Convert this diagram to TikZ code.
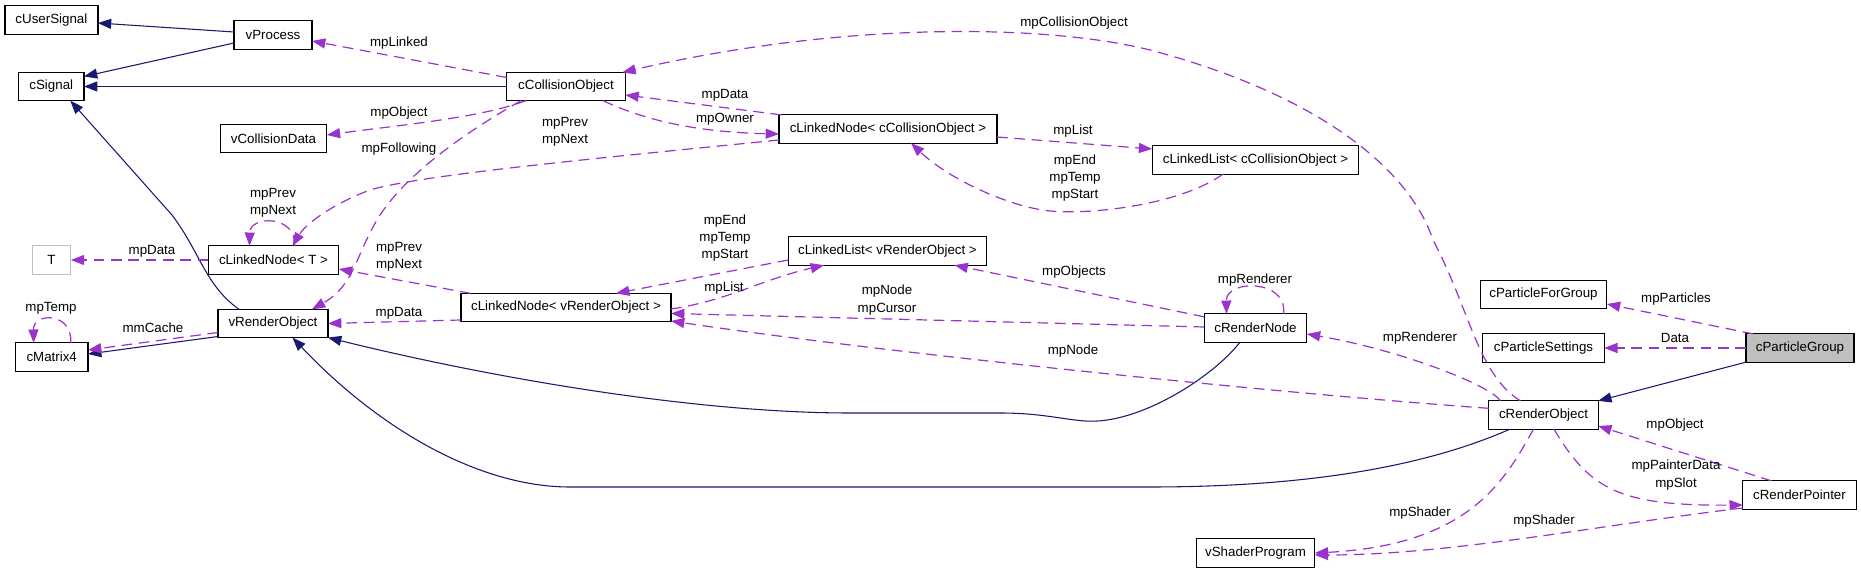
\documentclass[tikz,border=0pt]{standalone}
\usepackage{fontspec}
\setmainfont{Liberation Sans}
\usetikzlibrary{arrows.meta,calc}
\definecolor{navyc}{HTML}{191970}
\definecolor{purp}{HTML}{9A32CD}
\definecolor{grayb}{HTML}{BFBFBF}
\begin{document}
\begin{tikzpicture}[x=0.75pt,y=-0.75pt,
  font=\fontsize{10}{13}\selectfont,
  box/.style={draw=black, fill=white, line width=0.9pt, minimum height=21.2pt, inner sep=0pt, outer sep=0pt},
  inh/.style={draw=navyc, line width=0.8pt, -{Triangle[length=10pt,width=7.5pt]}},
  use/.style={draw=purp, line width=0.9pt, dash pattern=on 8pt off 5pt, -{Triangle[length=10pt,width=7.5pt]}},
  lbl/.style={inner sep=0pt, align=center, text=black}]
\useasboundingbox (0,0) rectangle (1861,573);
\fill[white] (0,0) rectangle (1861,573);
% nodes
\node[box, minimum width=69.75pt] (cUS) at (51.4,20) {cUserSignal};
\node[box, minimum width=58.5pt] (vP) at (273,35) {vProcess};
\node[box, minimum width=49pt] (cS) at (51.3,86.5) {cSignal};
\node[box, minimum width=89pt] (cCO) at (566,86.5) {cCollisionObject};
\node[box, minimum width=80pt] (vCD) at (273.5,138.5) {vCollisionData};
\node[box, minimum width=163.5pt] (cLNCO) at (888,129) {cLinkedNode< cCollisionObject >};
\node[box, minimum width=155pt] (cLLCO) at (1255.5,160) {cLinkedList< cCollisionObject >};
\node[box, draw=grayb, minimum width=29pt] (nT) at (51.5,260) {T};
\node[box, minimum width=98pt] (cLNT) at (273.5,260) {cLinkedNode< T >};
\node[box, minimum width=157.5pt] (cLNRO) at (566,307.5) {cLinkedNode< vRenderObject >};
\node[box, minimum width=82.5pt] (vRO) at (273,323.5) {vRenderObject};
\node[box, minimum width=54.5pt] (cM4) at (51.7,357) {cMatrix4};
\node[box, minimum width=149pt] (cLLRO) at (887.5,251) {cLinkedList< vRenderObject >};
\node[box, minimum width=77pt] (cRN) at (1255.5,328) {cRenderNode};
\node[box, minimum width=95pt] (cPFG) at (1543.5,294.5) {cParticleForGroup};
\node[box, minimum width=91pt] (cPS) at (1543.5,348) {cParticleSettings};
\node[box, fill=grayb, minimum width=81pt] (cPG) at (1800,348) {cParticleGroup};
\node[box, minimum width=82pt] (cRO) at (1543.5,415) {cRenderObject};
\node[box, minimum width=85pt] (cRP) at (1799.5,495) {cRenderPointer};
\node[box, minimum width=89pt] (vSP) at (1255.5,553) {vShaderProgram};
% inheritance edges
\draw[inh] ($(vP.west)+(0,-3)$) -- ($(cUS.east)+(0,3)$);
\draw[inh] ($(vP.west)+(0,8)$) -- ($(cS.east)+(0,-10)$);
\draw[inh] (cCO.west) -- (cS.east);
\draw[inh] ($(vRO.north)+(-34,0)$) .. controls (205,285) and (200,252) .. (172,215) -- ($(cS.south)+(19,0)$);
\draw[inh] ($(vRO.west)+(0,13)$) -- ($(cM4.east)+(0,-3)$);
\draw[inh] ($(cRN.south)+(-15.5,0)$) .. controls (1215,375) and (1140,425) .. (1085,421) .. controls (1060,419) and (1040,413) .. (1000,413) -- (850,413) .. controls (700,413) and (500,380) .. (vRO.south east);
\draw[inh] ($(cRO.south)+(-33.5,0)$) .. controls (1440,460) and (1330,487) .. (1150,487) -- (570,487) .. controls (480,487) and (380,430) .. ($(vRO.south)+(19.5,0)$);
\draw[inh] (cPG.south west) -- (cRO.north east);
% usage edges
\draw[use] ($(cCO.west)+(0,-9)$) -- ($(vP.east)+(0,6)$);
\draw[use] ($(cCO.south)+(-40,0)$) .. controls (480,118) and (400,125) .. ($(vCD.east)+(0,-3.5)$);
\draw[use] ($(cCO.south)+(-45,0)$) .. controls (470,130) and (410,170) .. (380,215) .. controls (355,255) and (355,285) .. ($(vRO.north)+(39,0)$);
\draw[use] ($(cLNCO.north west)+(2,0)$) -- ($(cCO.east)+(0,8.5)$);
\draw[use] ($(cCO.south)+(37,0)$) .. controls (640,118) and (690,132) .. ($(cLNCO.west)+(0,5)$);
\draw[use] ($(cLNCO.west)+(0,11)$) .. controls (600,158) and (420,175) .. (370,190) .. controls (330,205) and (305,225) .. ($(cLNT.north)+(19,0)$);
\draw[use] ($(cLNT.north)+(21,0)$) .. controls (297,215) and (250,215) .. ($(cLNT.north)+(-24,0)$);
\draw[use] (cLNT.west) -- (nT.east);
\draw[use] ($(cLNRO.north west)+(9.5,0)$) -- ($(cLNT.east)+(0,9)$);
\draw[use] ($(cLNRO.west)+(0,12.5)$) -- (vRO.east);
\draw[use] ($(vRO.west)+(0,9)$) -- ($(cM4.east)+(0,-7)$);
\draw[use] ($(cM4.north)+(19,0)$) .. controls (73,312) and (33,312) .. ($(cM4.north)+(-18,0)$);
\draw[use] ($(cLLRO.west)+(0,9)$) -- ($(cLNRO.north)+(50,0)$);
\draw[use] ($(cLNRO.east)+(0,1.5)$) .. controls (730,300) and (760,280) .. ($(cLLRO.south)+(-63.5,0)$);
\draw[use] ($(cRN.west)+(0,-1)$) -- ($(cLNRO.east)+(0,6)$);
\draw[use] ($(cRO.west)+(0,-6.7)$) .. controls (1300,395) and (900,355) .. ($(cLNRO.east)+(0,13.5)$);
\draw[use] ($(cRN.north west)+(0,3)$) -- ($(cLLRO.south)+(67,0)$);
\draw[use] ($(cRN.north)+(28,0)$) .. controls (1288,279) and (1226,279) .. ($(cRN.north)+(-29,0)$);
\draw[use] ($(cPG.north west)+(7,0)$) -- ($(cPFG.east)+(0,9.5)$);
\draw[use] (cPG.west) -- (cPS.east);
\draw[use] ($(cRO.north)+(-43,0)$) .. controls (1490,385) and (1400,350) .. ($(cRN.east)+(0,6)$);
\draw[use] ($(cRO.north)+(-23,0)$) .. controls (1478,375) and (1470,310) .. (1433,240) .. controls (1410,170) and (1320,95) .. (1150,50) .. controls (1050,25) and (850,20) .. ($(cCO.north east)+(-3,0)$);
\draw[use] ($(cLNCO.east)+(0,8)$) -- ($(cLLCO.west)+(0,-11)$);
\draw[use] ($(cLLCO.south)+(-32.5,0)$) .. controls (1180,205) and (1090,215) .. (1050,211) .. controls (1010,207) and (950,180) .. ($(cLNCO.south)+(23,0)$);
\draw[use] ($(cRO.south)+(-10,0)$) .. controls (1505,480) and (1470,545) .. (vSP.east);
\draw[use] ($(cRP.west)+(0,13)$) .. controls (1600,525) and (1450,555) .. ($(vSP.east)+(0,2)$);
\draw[use] ($(cRO.south)+(10.5,0)$) .. controls (1590,490) and (1620,506) .. ($(cRP.west)+(0,10)$);
\draw[use] ($(cRP.north)+(-28,0)$) -- ($(cRO.east)+(0,11)$);
% labels
\node[lbl] (l1) at (399,43) {mpLinked};
\node[lbl] (l2) at (399,113) {mpObject};
\node[lbl] (l3) at (399,149) {mpFollowing};
\node[lbl] (l4) at (725,95) {mpData};
\node[lbl] (l5) at (725,119) {mpOwner};
\node[lbl] (l6) at (565,132) {mpPrev\\mpNext};
\node[lbl] (l7) at (273,203) {mpPrev\\mpNext};
\node[lbl] (l8) at (152,251) {mpData};
\node[lbl] (l9) at (399,257) {mpPrev\\mpNext};
\node[lbl] (l10) at (399,313) {mpData};
\node[lbl] (l11) at (153,328) {mmCache};
\node[lbl] (l12) at (51,308) {mpTemp};
\node[lbl] (l13) at (725,238) {mpEnd\\mpTemp\\mpStart};
\node[lbl] (l14) at (724,288) {mpList};
\node[lbl] (l15) at (887,300) {mpNode\\mpCursor};
\node[lbl] (l16) at (1073,351) {mpNode};
\node[lbl] (l17) at (1074,272) {mpObjects};
\node[lbl] (l18) at (1255,280) {mpRenderer};
\node[lbl] (l19) at (1676,299) {mpParticles};
\node[lbl] (l20) at (1675,338) {Data};
\node[lbl] (l21) at (1420,338) {mpRenderer};
\node[lbl] (l22) at (1074,23) {mpCollisionObject};
\node[lbl] (l23) at (1073,131) {mpList};
\node[lbl] (l24) at (1075,178) {mpEnd\\mpTemp\\mpStart};
\node[lbl] (l25) at (1420,513) {mpShader};
\node[lbl] (l26) at (1544,521) {mpShader};
\node[lbl] (l27) at (1676,475) {mpPainterData\\mpSlot};
\node[lbl] (l28) at (1675,425) {mpObject};
\end{tikzpicture}
\end{document}
